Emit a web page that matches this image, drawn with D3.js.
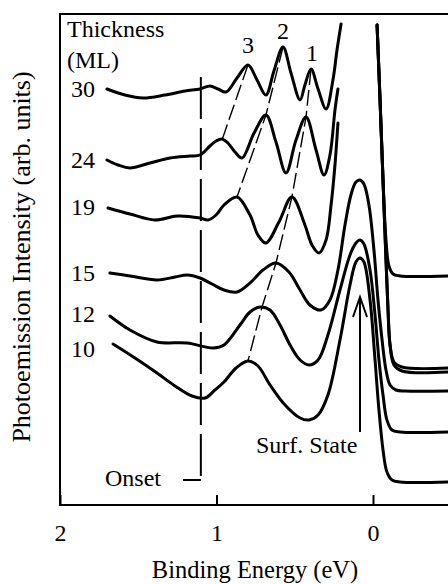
<!DOCTYPE html>
<html><head><meta charset="utf-8">
<script src="https://cdn.jsdelivr.net/npm/d3@7"></script>
<style>
body{margin:0;background:#fff;}
svg{display:block;}
</style></head>
<body>
<svg id="chart" width="448" height="584"></svg>
<script>
// ---- data (binding energy in eV, intensity in arb. units) ----
const thicknesses = ["30","24","19","15","12","10"];

const e30 = [1.700,1.585,1.470,1.329,1.201,1.105,1.042,0.990,0.939,0.869,0.799,0.741,0.684,0.633,0.575,0.524,0.466,0.435,0.396,0.351,0.300,0.256,0.230,0.204,null,-0.026,-0.045,-0.064,-0.083,-0.102,-0.128,-0.173,-0.479];
const i30 = [416,410,407,410,414,416,419,416,413,427,440,425,410,434,458,432,405,420,436,416,396,425,455,481,null,480,405,325,265,239,231,229,229];

const e24 = [1.700,1.629,1.553,1.425,1.297,1.169,1.105,1.042,1.003,0.965,0.927,0.882,0.837,0.760,0.684,0.620,0.556,0.492,0.428,0.364,0.313,0.275,0.243,0.224,null,-0.026,-0.045,-0.064,-0.083,-0.096,-0.109,-0.134,-0.185,-0.479];
const i24 = [345,340,337,342,347,349,350,359,364,366,362,353,347,372,390,363,332,365,388,355,330,350,395,416,null,480,405,325,245,195,160,143,138,137];

const e19 = [1.693,1.553,1.393,1.252,1.105,1.054,1.003,0.952,0.869,0.786,0.735,0.684,0.601,0.518,0.435,0.390,0.345,0.300,0.268,0.243,0.224,null,-0.026,-0.045,-0.064,-0.083,-0.096,-0.109,-0.134,-0.185,-0.479];
const i19 = [297,291,285,289,287,285,290,300,308,290,270,262,283,308,280,260,252,265,300,340,382,null,480,405,325,245,195,160,140,134,133];

const e15 = [1.681,1.553,1.380,1.265,1.188,1.105,1.029,0.952,0.869,0.786,0.703,0.620,0.537,0.466,0.403,0.332,0.275,0.224,0.179,0.141,0.109,0.083,0.058,0.026,-0.006,-0.032,-0.058,-0.083,-0.109,-0.147,-0.204,-0.479];
const i15 = [232,229,225,228,230,227,221,215,213,222,235,242,233,215,200,195,205,235,280,310,323,325,321,300,255,205,165,135,120,115,114,114];

const e12 = [1.681,1.553,1.380,1.188,1.022,0.952,0.850,0.786,0.722,0.658,0.594,0.530,0.466,0.409,0.351,0.288,0.211,0.147,0.109,0.083,0.058,0.019,-0.013,-0.038,-0.064,-0.089,-0.121,-0.173,-0.479];
const i12 = [189,175,163,162,157,160,180,193,198,195,180,160,145,140,145,170,215,250,262,265,261,235,190,145,110,85,75,73,73];

const e10 = [1.661,1.521,1.380,1.265,1.157,1.073,1.010,0.952,0.875,0.799,0.735,0.658,0.562,0.466,0.409,0.351,0.288,0.211,0.147,0.109,0.083,0.058,0.019,-0.013,-0.038,-0.064,-0.089,-0.121,-0.173,-0.479];
const i10 = [161,147,132,119,109,107,115,123,137,144,139,120,100,87,85,90,110,165,220,243,247,243,205,145,95,55,33,25,23,23];

// peak-dispersion guide lines (dashed)
const guide3E = [0.799,0.965], guide3I = [440,365];
const guide2E = [0.575,0.684,0.869], guide2I = [458,390,308];
const guide1E = [0.396,0.428,0.518,0.620,0.709,0.799], guide1I = [436,388,308,242,198,144];
const peakLabels = ["3","2","1"];

// onset marker
const onsetE = 1.10;
const onsetTopI = 428, onsetBottomI = 25, onsetTickE = 1.214;
// surface state arrow
const surfE = 0.083, surfTipI = 208, surfTailI = 73;

const tickValues = [2,1,0];
const tickLabels = ["2","1","0"];

// ---- layout ----
const FONT = "'Liberation Serif', 'DejaVu Serif', serif";
const svg = d3.select("#chart");
const x = d3.scaleLinear().domain([2,0]).range([60,373]);
const y = d3.scaleLinear().domain([0,491]).range([505,14]);

const series = [[e30,i30],[e24,i24],[e19,i19],[e15,i15],[e12,i12],[e10,i10]]
  .map(([e,i]) => e.map((v,k) => ({e:v, i:i[k]})));

const line = d3.line()
  .defined(d => d.e !== null && d.i !== null)
  .x(d => x(d.e)).y(d => y(d.i))
  .curve(d3.curveCatmullRom.alpha(0.5));

const toPts = (E,I) => E.map((v,k)=>({e:v,i:I[k]}));
const gline = d3.line().x(d=>x(d.e)).y(d=>y(d.i));

// frame
svg.append("path")
  .attr("d", `M${x(-0.6)},${y(491)}H${x(2)}V${y(0)}H${x(-0.6)}`)
  .attr("fill","none").attr("stroke","#000").attr("stroke-width",2);

// axis
const axis = d3.axisBottom(x).tickValues(tickValues)
  .tickFormat((d,k)=>tickLabels[k]).tickSize(-10).tickSizeOuter(0).tickPadding(19);
const ag = svg.append("g").attr("transform",`translate(0,${y(0)})`).call(axis);
ag.attr("font-family",FONT).attr("font-size",24);
ag.select(".domain").remove();
ag.selectAll(".tick line").attr("stroke","#000").attr("stroke-width",2);
ag.selectAll(".tick text").style("font-family",FONT).attr("font-size",24).attr("fill","#000");

// guide lines
[[guide3E,guide3I],[guide2E,guide2I],[guide1E,guide1I]].forEach(([E,I])=>{
  svg.append("path").attr("d",gline(toPts(E,I)))
    .attr("fill","none").attr("stroke","#000").attr("stroke-width",1.4)
    .attr("stroke-dasharray","16,5");
});

// onset
svg.append("path")
  .attr("d",`M${x(onsetE)},${y(onsetTopI)}V${y(onsetBottomI)}`)
  .attr("fill","none").attr("stroke","#000").attr("stroke-width",2)
  .attr("stroke-dasharray","42,9");
svg.append("path")
  .attr("d",`M${x(onsetTickE)},${y(onsetBottomI)}H${x(onsetE)}`)
  .attr("fill","none").attr("stroke","#000").attr("stroke-width",2);

// curves
series.forEach(s=>{
  svg.append("path").attr("d",line(s))
    .attr("fill","none").attr("stroke","#000").attr("stroke-width",3)
    .attr("stroke-linejoin","round").attr("stroke-linecap","round");
});

// arrow (points up to the surface-state peak)
svg.append("path")
  .attr("d",`M${x(surfE)},${y(surfTailI)}V${y(surfTipI)}M${x(surfE)-7},${y(surfTipI)+20}L${x(surfE)},${y(surfTipI)}L${x(surfE)+7},${y(surfTipI)+20}`)
  .attr("fill","none").attr("stroke","#000").attr("stroke-width",2);

// texts
const T = (t,xx,yy,opt={}) => {
  const el = svg.append("text").attr("x",xx).attr("y",yy).text(t)
    .style("font-family",FONT).attr("fill","#000")
    .attr("font-size",opt.size||24).attr("text-anchor",opt.anchor||"start");
  if(opt.rot) el.attr("transform",`rotate(-90,${xx},${yy})`);
  return el;
};
T("Thickness",67,37);
T("(ML)",67,68);
const labelY = [97,168,215,281,322,357];
thicknesses.forEach((t,k)=>T(t,71,labelY[k]));
const peakX = [248,283,312], peakY=[53,39,61];
peakLabels.forEach((t,k)=>T(t,peakX[k],peakY[k],{anchor:"middle"}));
T("Onset",105,486);
T("Surf. State",256,453);
T("Binding Energy (eV)",255,578,{anchor:"middle",size:24.5});
T("Photoemission Intensity (arb. units)",30,257,{anchor:"middle",size:26,rot:true});
</script>
</body></html>
